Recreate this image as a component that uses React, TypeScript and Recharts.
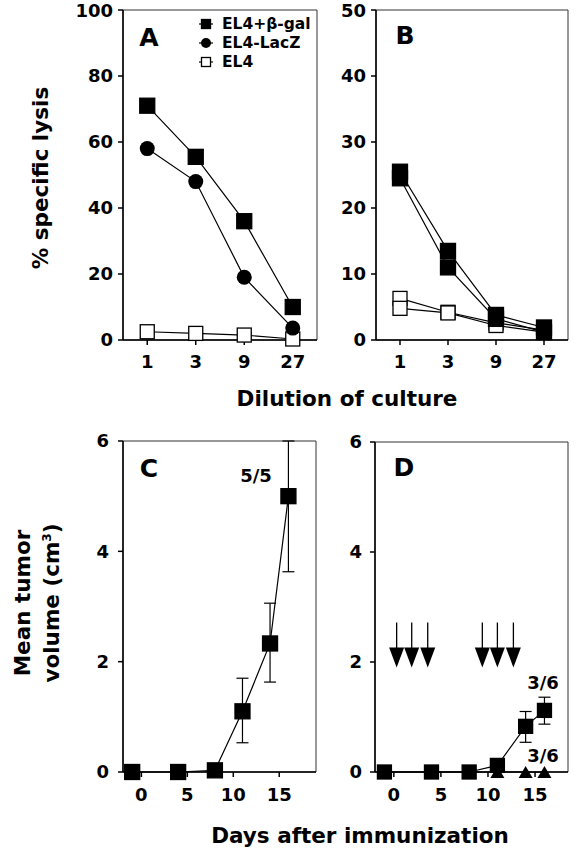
import { ComposedChart, Line, XAxis, YAxis, ErrorBar, ReferenceArea } from 'recharts'

const FONT = '"DejaVu Sans", "Liberation Sans", sans-serif'

// A / B: cytotoxicity vs dilution of culture
const dilutions = ['1', '3', '9', '27']
const lysisTicksA = [0, 20, 40, 60, 80, 100]
const lysisTicksB = [0, 10, 20, 30, 40, 50]
const aBgal = [71, 55.5, 36, 10]
const aLacZ = [58, 48, 19, 3.6]
const aEL4 = [2.5, 2, 1.5, 0.3]
const bBgal1 = [25.5, 13.5, 3.8, 1.9]
const bBgal2 = [24.5, 11, 3.2, 1.2]
const bEL4a = [6.3, 4.2, 2.6, 1.5]
const bEL4b = [4.8, 4.1, 2.2, 1.2]

// C / D: tumour growth
const dayTicks = [0, 5, 10, 15]
const volTicks = [0, 2, 4, 6]
const days = [-1, 4, 8, 11, 14, 16]
const cVolume = [0, 0, 0.03, 1.1, 2.33, 5.0]
const cErrLow = [0, 0, 0, 0.57, 0.7, 1.37]
const cErrHigh = [0, 0, 0, 0.6, 0.73, 1.0]
const dVolume = [0, 0, 0, 0.12, 0.83, 1.12]
const dErrLow = [0, 0, 0, 0, 0.29, 0.25]
const dErrHigh = [0, 0, 0, 0, 0.27, 0.24]
const dTumorFree = [0, 0, 0, 0, 0, 0]
const immunizationDays = [0.3, 1.9, 3.6, 9.4, 11, 12.7]
const arrowLevel = 1.9

const byIndex = (ys: number[]) => ys.map((y, i) => ({ x: i, y }))
const byDay = (ys: number[], lo?: number[], hi?: number[]) =>
  ys.map((y, i) => ({ x: days[i], y, err: lo && hi ? [lo[i], hi[i]] : [0, 0] }))

type Kind = 'square' | 'open' | 'circle' | 'triangle' | 'arrow'

const marker = (kind: Kind, cx: number, cy: number, size: number, key?: any) => {
  const h = size / 2
  if (kind === 'circle') return <circle key={key} cx={cx} cy={cy} r={h} fill="#000" />
  if (kind === 'triangle')
    return <polygon key={key} points={`${cx - h},${cy + h * 0.85} ${cx + h},${cy + h * 0.85} ${cx},${cy - h * 0.85}`} fill="#000" />
  if (kind === 'arrow')
    return (
      <g key={key}>
        <line x1={cx} x2={cx} y1={cy - 45} y2={cy - 19} stroke="#000" strokeWidth={1.3} />
        <polygon points={`${cx - h},${cy - 20} ${cx + h},${cy - 20} ${cx},${cy}`} fill="#000" />
      </g>
    )
  return (
    <rect key={key} x={cx - h} y={cy - h} width={size} height={size}
      fill={kind === 'open' ? '#fff' : '#000'} stroke="#000" strokeWidth={1.3} />
  )
}

const dotOf = (kind: Kind, size: number) => (p: any) => {
  if (p.cx == null || p.cy == null) return <g key={p.index} />
  return marker(kind, p.cx, p.cy, size, p.index)
}

const tickStyle = { fontSize: 18, fontWeight: 'bold', fill: '#000', fontFamily: FONT }
const axisLine = { stroke: '#000', strokeWidth: 1.5 }

const series = (data: any[], kind: Kind, size: number, key: string) => (
  <Line key={key} data={data} dataKey="y" stroke="#000" strokeWidth={1.2}
    dot={dotOf(kind, size)} activeDot={false} isAnimationActive={false} />
)

const Letter = ({ x, y, children }: any) => (
  <div style={{ position: 'absolute', left: x, top: y, transform: 'translate(-50%,-50%)', font: `bold 25px ${FONT}` }}>{children}</div>
)

const Note = ({ x, y, children }: any) => (
  <div style={{ position: 'absolute', left: x, top: y, transform: 'translate(-50%,-50%)', font: `bold 18px ${FONT}` }}>{children}</div>
)

const LegendRow = ({ y, kind, label }: { y: number; kind: Kind; label: string }) => (
  <div style={{ position: 'absolute', left: 198, top: y - 10, height: 20, display: 'flex', alignItems: 'center' }}>
    <svg width={16} height={20} style={{ overflow: 'visible' }}>
      <line x1={1} x2={15} y1={10} y2={10} stroke="#000" strokeWidth={1.2} />
      {marker(kind, 8, 10, kind === 'circle' ? 10 : 9)}
    </svg>
    <span style={{ marginLeft: 8, font: `bold 15.5px ${FONT}`, whiteSpace: 'nowrap' }}>{label}</span>
  </div>
)

export default function App() {
  return (
    <div style={{ position: 'relative', width: 577, height: 853, background: '#fff', color: '#000', overflow: 'hidden' }}>
      <style>{'body{margin:0}'}</style>

      {/* A */}
      <div style={{ position: 'absolute', left: 0, top: 0 }}>
        <ComposedChart width={320} height={380} margin={{ top: 10, right: 3, left: 0, bottom: 0 }}>
          <XAxis type="number" dataKey="x" domain={[-0.5, 3.5]} ticks={[0, 1, 2, 3]} tickFormatter={(i) => dilutions[i]}
            height={40} tick={tickStyle} tickSize={5} tickMargin={10} axisLine={axisLine} tickLine={axisLine} />
          <YAxis domain={[0, 100]} ticks={lysisTicksA} width={123} tick={tickStyle} tickSize={5} tickMargin={5}
            axisLine={axisLine} tickLine={axisLine} />
          <ReferenceArea x1={-0.5} x2={3.5} y1={0} y2={100} fill="none" stroke="#333" strokeWidth={1} />
          {series(byIndex(aEL4), 'open', 14, 'a3')}
          {series(byIndex(aLacZ), 'circle', 15, 'a2')}
          {series(byIndex(aBgal), 'square', 15, 'a1')}
        </ComposedChart>
      </div>

      {/* B */}
      <div style={{ position: 'absolute', left: 320, top: 0 }}>
        <ComposedChart width={252} height={380} margin={{ top: 10, right: 4, left: 0, bottom: 0 }}>
          <XAxis type="number" dataKey="x" domain={[-0.5, 3.5]} ticks={[0, 1, 2, 3]} tickFormatter={(i) => dilutions[i]}
            height={40} tick={tickStyle} tickSize={5} tickMargin={10} axisLine={axisLine} tickLine={axisLine} />
          <YAxis domain={[0, 50]} ticks={lysisTicksB} width={56} tick={tickStyle} tickSize={5} tickMargin={5}
            axisLine={axisLine} tickLine={axisLine} />
          <ReferenceArea x1={-0.5} x2={3.5} y1={0} y2={50} fill="none" stroke="#333" strokeWidth={1} />
          {series(byIndex(bEL4a), 'open', 14, 'b3')}
          {series(byIndex(bEL4b), 'open', 14, 'b4')}
          {series(byIndex(bBgal1), 'square', 15, 'b1')}
          {series(byIndex(bBgal2), 'square', 15, 'b2')}
        </ComposedChart>
      </div>

      {/* C */}
      <div style={{ position: 'absolute', left: 0, top: 420 }}>
        <ComposedChart width={320} height={400} margin={{ top: 21, right: 4, left: 0, bottom: 0 }}>
          <XAxis type="number" dataKey="x" domain={[-2, 19]} ticks={dayTicks} height={48}
            tick={tickStyle} tickSize={5} tickMargin={11} axisLine={axisLine} tickLine={axisLine} />
          <YAxis domain={[0, 6]} ticks={volTicks} width={123} tick={tickStyle} tickSize={5} tickMargin={9}
            axisLine={axisLine} tickLine={axisLine} />
          <ReferenceArea x1={-2} x2={19} y1={0} y2={6} fill="none" stroke="#333" strokeWidth={1} />
          <Line data={byDay(cVolume, cErrLow, cErrHigh)} dataKey="y" stroke="#000" strokeWidth={1.2}
            dot={dotOf('square', 15)} activeDot={false} isAnimationActive={false}>
            <ErrorBar dataKey="err" direction="y" width={6} stroke="#000" strokeWidth={1.2} />
          </Line>
        </ComposedChart>
      </div>

      {/* D */}
      <div style={{ position: 'absolute', left: 320, top: 420 }}>
        <ComposedChart width={252} height={400} margin={{ top: 22, right: 4, left: 0, bottom: 0 }}>
          <XAxis type="number" dataKey="x" domain={[-2, 18.5]} ticks={dayTicks} height={48}
            tick={tickStyle} tickSize={5} tickMargin={11} axisLine={axisLine} tickLine={axisLine} />
          <YAxis domain={[0, 6]} ticks={volTicks} width={55} tick={tickStyle} tickSize={5} tickMargin={8}
            axisLine={axisLine} tickLine={axisLine} />
          <ReferenceArea x1={-2} x2={18.5} y1={0} y2={6} fill="none" stroke="#333" strokeWidth={1} />
          <Line data={immunizationDays.map((x) => ({ x, y: arrowLevel }))} dataKey="y" stroke="none"
            dot={dotOf('arrow', 15)} activeDot={false} isAnimationActive={false} />
          <Line data={byDay(dTumorFree)} dataKey="y" stroke="#000" strokeWidth={1.2}
            dot={dotOf('triangle', 14)} activeDot={false} isAnimationActive={false} />
          <Line data={byDay(dVolume, dErrLow, dErrHigh)} dataKey="y" stroke="#000" strokeWidth={1.2}
            dot={dotOf('square', 14)} activeDot={false} isAnimationActive={false}>
            <ErrorBar dataKey="err" direction="y" width={6} stroke="#000" strokeWidth={1.2} />
          </Line>
        </ComposedChart>
      </div>

      {/* legend in A */}
      <LegendRow y={24} kind="square" label="EL4+β-gal" />
      <LegendRow y={43} kind="circle" label="EL4-LacZ" />
      <LegendRow y={62} kind="open" label="EL4" />

      <Letter x={149} y={37}>A</Letter>
      <Letter x={405} y={35}>B</Letter>
      <Letter x={149} y={468}>C</Letter>
      <Letter x={404} y={467}>D</Letter>
      <Note x={256} y={475}>5/5</Note>
      <Note x={543} y={682}>3/6</Note>
      <Note x={543} y={755}>3/6</Note>

      {/* axis titles */}
      <div style={{ position: 'absolute', left: 40, top: 178, transform: 'translate(-50%,-50%) rotate(-90deg)', font: `bold 21.5px ${FONT}`, whiteSpace: 'nowrap' }}>
        % specific lysis
      </div>
      <div style={{ position: 'absolute', left: 347, top: 398, transform: 'translate(-50%,-50%)', font: `bold 21.5px ${FONT}`, whiteSpace: 'nowrap' }}>
        Dilution of culture
      </div>
      <div style={{ position: 'absolute', left: 37, top: 603, transform: 'translate(-50%,-50%) rotate(-90deg)', font: `bold 21.5px ${FONT}`, whiteSpace: 'nowrap', textAlign: 'center', lineHeight: '25px' }}>
        Mean tumor<br />volume (cm<sup style={{ fontSize: 12 }}>3</sup>)
      </div>
      <div style={{ position: 'absolute', left: 360, top: 835, transform: 'translate(-50%,-50%)', font: `bold 21.5px ${FONT}`, whiteSpace: 'nowrap' }}>
        Days after immunization
      </div>
    </div>
  )
}
